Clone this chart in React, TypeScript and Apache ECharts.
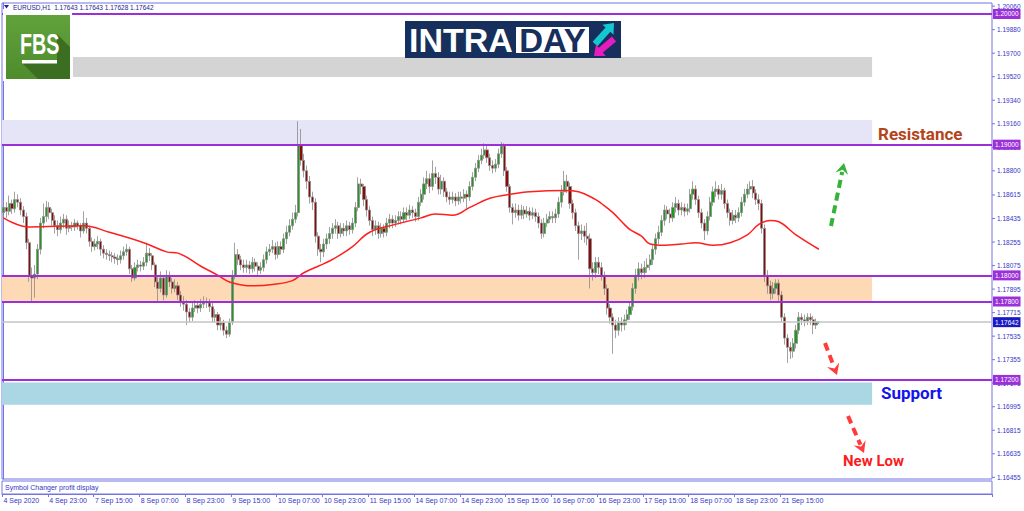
import React, { useEffect, useRef } from "react";
import * as echarts from "echarts";

// ---------- data ----------
const tickLabels = [
  "4 Sep 2020", "4 Sep 23:00", "7 Sep 15:00", "8 Sep 07:00", "8 Sep 23:00", "9 Sep 15:00",
  "10 Sep 07:00", "10 Sep 23:00", "11 Sep 15:00", "14 Sep 07:00", "14 Sep 23:00", "15 Sep 15:00",
  "16 Sep 07:00", "16 Sep 23:00", "17 Sep 15:00", "18 Sep 07:00", "18 Sep 23:00", "21 Sep 15:00",
];
const BARS_PER_LABEL = 16;
const TOTAL_SLOTS = 346;

const firstOpen = 1.1848;
const closes = [
  1.1852, 1.1849, 1.1855, 1.1851, 1.1858, 1.1856, 1.1850, 1.1845, 1.1825, 1.1800,
  1.1798, 1.1801, 1.1820, 1.1840, 1.1845, 1.1852, 1.1848, 1.1842, 1.1838, 1.1835,
  1.1840, 1.1843, 1.1836, 1.1838, 1.1837, 1.1840, 1.1838, 1.1834, 1.1840, 1.1836,
  1.1826, 1.1822, 1.1824, 1.1826, 1.1820, 1.1817, 1.1816, 1.1815, 1.1814, 1.1813,
  1.1812, 1.1815, 1.1818, 1.1820, 1.1805, 1.1798, 1.1806, 1.1808, 1.1807, 1.1810,
  1.1817, 1.1815, 1.1808, 1.1795, 1.1790, 1.1798, 1.1785, 1.1800, 1.1795, 1.1790,
  1.1792, 1.1785, 1.1780, 1.1778, 1.1772, 1.1768, 1.1775, 1.1777, 1.1775, 1.1778,
  1.1780, 1.1779, 1.1776, 1.1768, 1.1770, 1.1762, 1.1764, 1.1758, 1.1755, 1.1764,
  1.1800, 1.1816, 1.1812, 1.1808, 1.1806, 1.1808, 1.1805, 1.1810, 1.1807, 1.1804,
  1.1806, 1.1812, 1.1818, 1.1820, 1.1822, 1.1816, 1.1822, 1.1820, 1.1828, 1.1833,
  1.1838, 1.1843, 1.1848, 1.1900, 1.1888, 1.1880, 1.1872, 1.1860, 1.1856, 1.1830,
  1.1820, 1.1818, 1.1824, 1.1828, 1.1832, 1.1836, 1.1838, 1.1832, 1.1836, 1.1834,
  1.1838, 1.1835, 1.1840, 1.1852, 1.1870, 1.1868, 1.1858, 1.1850, 1.1842, 1.1835,
  1.1838, 1.1832, 1.1836, 1.1833, 1.1840, 1.1843, 1.1840, 1.1842, 1.1845, 1.1843,
  1.1848, 1.1846, 1.1850, 1.1848, 1.1845, 1.1856, 1.1862, 1.1870, 1.1874, 1.1868,
  1.1878, 1.1875, 1.1866, 1.1872, 1.1864, 1.1860, 1.1858, 1.1860, 1.1857, 1.1860,
  1.1859, 1.1862, 1.1860, 1.1868, 1.1875, 1.1882, 1.1888, 1.1892, 1.1896, 1.1890,
  1.1884, 1.1882, 1.1885, 1.1893, 1.1899, 1.1880, 1.1868, 1.1852, 1.1848, 1.1850,
  1.1846, 1.1850, 1.1847, 1.1849, 1.1846, 1.1848, 1.1845, 1.1840, 1.1832, 1.1840,
  1.1843, 1.1845, 1.1844, 1.1847, 1.1856, 1.1864, 1.1872, 1.1868, 1.1855, 1.1848,
  1.1838, 1.1832, 1.1834, 1.1830, 1.1828, 1.1805, 1.1802, 1.1810, 1.1806, 1.1800,
  1.1790, 1.1775, 1.1768, 1.1762, 1.1758, 1.1764, 1.1762, 1.1766, 1.1770, 1.1776,
  1.1790, 1.1800, 1.1805, 1.1802, 1.1806, 1.1808, 1.1812, 1.1820, 1.1828, 1.1833,
  1.1842, 1.1850, 1.1847, 1.1844, 1.1852, 1.1855, 1.1850, 1.1852, 1.1849, 1.1851,
  1.1862, 1.1866, 1.1858, 1.1848, 1.1840, 1.1834, 1.1845, 1.1856, 1.1864, 1.1866,
  1.1862, 1.1865, 1.1855, 1.1848, 1.1842, 1.1846, 1.1844, 1.1848, 1.1856, 1.1862,
  1.1866, 1.1868, 1.1863, 1.1858, 1.1855, 1.1836, 1.1800, 1.1792, 1.1786, 1.1790,
  1.1794, 1.1785, 1.1768, 1.1752, 1.1745, 1.1742, 1.1748, 1.1758, 1.1768, 1.1766,
  1.1765, 1.1768, 1.1766, 1.1762, 1.17643, 1.17642,
];
const highs = [
  1.1858, 1.1856, 1.1861, 1.1858, 1.1864, 1.1862, 1.1859, 1.1853, 1.1848, 1.1828,
  1.1806, 1.1808, 1.1824, 1.1844, 1.1855, 1.1857, 1.1856, 1.1851, 1.1846, 1.1842,
  1.1845, 1.1847, 1.1846, 1.1842, 1.1841, 1.1843, 1.1842, 1.1840, 1.1849, 1.1844,
  1.1838, 1.1829, 1.1828, 1.1830, 1.1828, 1.1823, 1.1820, 1.1819, 1.1818, 1.1817,
  1.1816, 1.1819, 1.1822, 1.1824, 1.1822, 1.1808, 1.1810, 1.1812, 1.1811, 1.1814,
  1.1825, 1.1821, 1.1817, 1.1810, 1.1799, 1.1803, 1.1800, 1.1804, 1.1803, 1.1798,
  1.1797, 1.1795, 1.1788, 1.1784, 1.1781, 1.1775, 1.1779, 1.1781, 1.1780, 1.1782,
  1.1784, 1.1783, 1.1782, 1.1779, 1.1774, 1.1772, 1.1768, 1.1766, 1.1761, 1.1767,
  1.1804, 1.1825, 1.1820, 1.1815, 1.1812, 1.1812, 1.1811, 1.1814, 1.1813, 1.1810,
  1.1810, 1.1816, 1.1822, 1.1824, 1.1827, 1.1825, 1.1826, 1.1826, 1.1832, 1.1838,
  1.1843, 1.1848, 1.1854, 1.1918, 1.1912, 1.1893, 1.1884, 1.1876, 1.1864, 1.1859,
  1.1833, 1.1824, 1.1828, 1.1832, 1.1837, 1.1840, 1.1843, 1.1841, 1.1840, 1.1840,
  1.1842, 1.1841, 1.1844, 1.1856, 1.1875, 1.1874, 1.1870, 1.1861, 1.1853, 1.1845,
  1.1842, 1.1841, 1.1840, 1.1839, 1.1844, 1.1847, 1.1846, 1.1846, 1.1849, 1.1849,
  1.1852, 1.1852, 1.1854, 1.1853, 1.1851, 1.1860, 1.1866, 1.1875, 1.1880, 1.1878,
  1.1888, 1.1883, 1.1879, 1.1877, 1.1875, 1.1867, 1.1864, 1.1864, 1.1863, 1.1864,
  1.1864, 1.1866, 1.1865, 1.1872, 1.1879, 1.1886, 1.1892, 1.1897, 1.1901, 1.1899,
  1.1893, 1.1888, 1.1889, 1.1897, 1.1902, 1.1901, 1.1883, 1.1870, 1.1855, 1.1855,
  1.1854, 1.1854, 1.1853, 1.1853, 1.1852, 1.1852, 1.1851, 1.1848, 1.1843, 1.1844,
  1.1847, 1.1849, 1.1849, 1.1851, 1.1860, 1.1869, 1.1880, 1.1877, 1.1871, 1.1858,
  1.1851, 1.1841, 1.1839, 1.1838, 1.1840, 1.1832, 1.1810, 1.1814, 1.1814, 1.1810,
  1.1803, 1.1793, 1.1778, 1.1771, 1.1766, 1.1768, 1.1768, 1.1770, 1.1774, 1.1780,
  1.1794, 1.1805, 1.1810, 1.1809, 1.1811, 1.1813, 1.1816, 1.1824, 1.1832, 1.1838,
  1.1846, 1.1854, 1.1853, 1.1851, 1.1856, 1.1860, 1.1858, 1.1856, 1.1855, 1.1855,
  1.1866, 1.1872, 1.1869, 1.1861, 1.1851, 1.1843, 1.1849, 1.1860, 1.1868, 1.1872,
  1.1869, 1.1870, 1.1867, 1.1858, 1.1851, 1.1850, 1.1850, 1.1852, 1.1860, 1.1866,
  1.1870, 1.1872, 1.1873, 1.1866, 1.1862, 1.1858, 1.1839, 1.1804, 1.1796, 1.1795,
  1.1797, 1.1797, 1.1788, 1.1771, 1.1755, 1.1749, 1.1752, 1.1762, 1.1772, 1.1771,
  1.1770, 1.1771, 1.1771, 1.1769, 1.1767, 1.17643,
];
const lows = [
  1.1842, 1.1844, 1.1846, 1.1847, 1.1848, 1.1852, 1.1846, 1.1840, 1.1820, 1.1795,
  1.1780, 1.1783, 1.1797, 1.1816, 1.1836, 1.1841, 1.1843, 1.1838, 1.1832, 1.1830,
  1.1832, 1.1836, 1.1831, 1.1833, 1.1834, 1.1834, 1.1835, 1.1829, 1.1832, 1.1832,
  1.1822, 1.1818, 1.1819, 1.1820, 1.1815, 1.1813, 1.1812, 1.1811, 1.1810, 1.1809,
  1.1808, 1.1809, 1.1812, 1.1815, 1.1801, 1.1795, 1.1796, 1.1803, 1.1803, 1.1804,
  1.1807, 1.1811, 1.1804, 1.1791, 1.1780, 1.1787, 1.1781, 1.1783, 1.1791, 1.1786,
  1.1787, 1.1781, 1.1776, 1.1773, 1.1762, 1.1764, 1.1765, 1.1772, 1.1771, 1.1772,
  1.1775, 1.1775, 1.1772, 1.1764, 1.1764, 1.1758, 1.1758, 1.1754, 1.1752, 1.1753,
  1.1762, 1.1797, 1.1808, 1.1804, 1.1802, 1.1802, 1.1801, 1.1802, 1.1803, 1.1799,
  1.1801, 1.1803, 1.1809, 1.1815, 1.1817, 1.1812, 1.1813, 1.1816, 1.1817, 1.1824,
  1.1830, 1.1835, 1.1840, 1.1845, 1.1884, 1.1875, 1.1866, 1.1855, 1.1850, 1.1825,
  1.1815, 1.1810, 1.1814, 1.1820, 1.1824, 1.1828, 1.1832, 1.1828, 1.1829, 1.1830,
  1.1830, 1.1831, 1.1832, 1.1837, 1.1849, 1.1862, 1.1853, 1.1845, 1.1838, 1.1830,
  1.1831, 1.1828, 1.1829, 1.1829, 1.1830, 1.1836, 1.1836, 1.1837, 1.1839, 1.1839,
  1.1840, 1.1842, 1.1843, 1.1844, 1.1841, 1.1842, 1.1853, 1.1858, 1.1866, 1.1863,
  1.1865, 1.1870, 1.1862, 1.1862, 1.1860, 1.1856, 1.1854, 1.1855, 1.1853, 1.1854,
  1.1855, 1.1856, 1.1851, 1.1857, 1.1865, 1.1872, 1.1879, 1.1885, 1.1889, 1.1886,
  1.1880, 1.1878, 1.1879, 1.1882, 1.1890, 1.1876, 1.1864, 1.1848, 1.1839, 1.1844,
  1.1842, 1.1843, 1.1843, 1.1844, 1.1842, 1.1843, 1.1841, 1.1836, 1.1828, 1.1829,
  1.1837, 1.1840, 1.1840, 1.1840, 1.1844, 1.1852, 1.1861, 1.1863, 1.1851, 1.1843,
  1.1834, 1.1812, 1.1827, 1.1825, 1.1823, 1.1790, 1.1796, 1.1798, 1.1801, 1.1796,
  1.1785, 1.1770, 1.1763, 1.1740, 1.1752, 1.1754, 1.1757, 1.1758, 1.1762, 1.1766,
  1.1773, 1.1786, 1.1796, 1.1797, 1.1798, 1.1802, 1.1804, 1.1808, 1.1816, 1.1824,
  1.1830, 1.1838, 1.1843, 1.1840, 1.1841, 1.1848, 1.1846, 1.1846, 1.1845, 1.1846,
  1.1848, 1.1858, 1.1854, 1.1844, 1.1836, 1.1827, 1.1831, 1.1842, 1.1853, 1.1860,
  1.1858, 1.1858, 1.1851, 1.1844, 1.1838, 1.1839, 1.1840, 1.1841, 1.1845, 1.1853,
  1.1859, 1.1862, 1.1859, 1.1854, 1.1850, 1.1832, 1.1795, 1.1786, 1.1781, 1.1782,
  1.1786, 1.1780, 1.1764, 1.1747, 1.1733, 1.1736, 1.1737, 1.1744, 1.1755, 1.1762,
  1.1761, 1.1762, 1.1762, 1.1755, 1.1759, 1.17628,
];

// Moving average read at sample bars: [bar index, value]
const maPoints: [number, number][] = [
  [0, 1.1844], [9, 1.1837], [28, 1.1838], [37, 1.1833], [49, 1.1825], [57, 1.1818],
  [61, 1.1817], [69, 1.1807], [75, 1.1800], [79, 1.1795], [87, 1.1792], [94, 1.1793],
  [101, 1.1796], [105, 1.1802], [110, 1.1807], [114, 1.1811], [118, 1.1816], [122, 1.1822],
  [128, 1.1833], [137, 1.1839], [146, 1.1844], [151, 1.1847], [157, 1.1846], [163, 1.1852],
  [170, 1.1859], [177, 1.1862], [184, 1.1864], [196, 1.1865], [201, 1.1864], [207, 1.1858],
  [209, 1.1855], [213, 1.1848], [217, 1.1839], [219, 1.1835], [223, 1.1830], [226, 1.1824],
  [231, 1.1823], [237, 1.1824], [242, 1.1825], [248, 1.1823], [254, 1.1825], [260, 1.1831],
  [264, 1.1839], [268, 1.1842], [271, 1.1841], [277, 1.1831], [285, 1.1820],
];

const yTicks = [
  1.2006, 1.1988, 1.197, 1.1952, 1.1934, 1.1916, 1.1898, 1.188, 1.18615, 1.18435, 1.18255,
  1.18075, 1.17895, 1.17715, 1.17535, 1.17355, 1.17175, 1.16995, 1.16815, 1.16635, 1.16455,
];
const yMin = 1.16442;
const yMax = 1.20084;

const levelLines = [1.2, 1.19, 1.18, 1.178, 1.172];
const bidPrice = 1.17642;

const resistanceZone = [1.19, 1.19188];
const pivotZone = [1.178, 1.18];
const supportZone = [1.1701, 1.1718];
const bannerZone = [1.19517, 1.19671];
const zoneEndBar = 303.6;
const bannerStartBar = 24.3;

// ---------- styles ----------
const PURPLE = "#9b30d9";
const FRAME = "#7474e4";
const AXIS_TEXT = "#3535c8";
const SMALL_FONT = "Liberation Sans";

function dashedArrow(x1: number, y1: number, x2: number, y2: number, color: string) {
  const dx = x2 - x1, dy = y2 - y1;
  const len = Math.hypot(dx, dy);
  const ux = dx / len, uy = dy / len;
  const px = -uy, py = ux;
  const headLen = 11, headW = 6.5, notch = 4;
  const bx = x2 - ux * headLen, by = y2 - uy * headLen;
  const nx = x2 - ux * (headLen - notch), ny = y2 - uy * (headLen - notch);
  return [
    {
      type: "line", z: 100, silent: true,
      shape: { x1, y1, x2: x2 - ux * (headLen - 2), y2: y2 - uy * (headLen - 2) },
      style: { stroke: color, lineWidth: 4, lineDash: [8, 5] },
    },
    {
      type: "polygon", z: 100, silent: true,
      shape: { points: [[x2, y2], [bx + px * headW, by + py * headW], [nx, ny], [bx - px * headW, by - py * headW]] },
      style: { fill: color },
    },
  ];
}

function blockArrow(x1: number, y1: number, x2: number, y2: number, color: string) {
  const dx = x2 - x1, dy = y2 - y1;
  const len = Math.hypot(dx, dy);
  const ux = dx / len, uy = dy / len;
  const px = -uy, py = ux;
  const sw = 3.2, hw = 7.5, hl = 9;
  const bx = x2 - ux * hl, by = y2 - uy * hl;
  const pts = [
    [x1 + px * sw, y1 + py * sw],
    [bx + px * sw, by + py * sw],
    [bx + px * hw, by + py * hw],
    [x2, y2],
    [bx - px * hw, by - py * hw],
    [bx - px * sw, by - py * sw],
    [x1 - px * sw, y1 - py * sw],
  ];
  return { type: "polygon", z: 100, silent: true, shape: { points: pts }, style: { fill: color } };
}

export default function App() {
  const ref = useRef<HTMLDivElement>(null);

  useEffect(() => {
    if (!ref.current) return;
    const chart = echarts.init(ref.current, null, { renderer: "svg" });

    const categories = Array.from({ length: TOTAL_SLOTS }, (_, i) => String(i));
    const candles = closes.map((c, i) => [i === 0 ? firstOpen : closes[i - 1], c, lows[i], highs[i]]);

    const levelData: any[] = levelLines.map((v) => ({
      yAxis: v,
      lineStyle: { color: PURPLE, width: 2, type: "solid" },
      label: { backgroundColor: PURPLE },
    }));
    levelData.push({
      yAxis: bidPrice,
      lineStyle: { color: "#c4c4c4", width: 1.5, type: "solid" },
      label: { backgroundColor: "#1a1ac4" },
    });

    const zone = (range: number[], from: number, color: string) => [
      { coord: [from, range[0]], itemStyle: { color } },
      { coord: [zoneEndBar, range[1]] },
    ];

    const graphics: any[] = [
      // header
      { type: "polygon", z: 100, shape: { points: [[4, 5], [9, 5], [6.5, 8.5]] }, style: { fill: "#22228c" } },
      {
        type: "text", z: 100, x: 13, y: 7,
        style: { text: "EURUSD,H1  1.17643 1.17643 1.17628 1.17642", fill: "#22228c", fontSize: 6.5, fontFamily: SMALL_FONT, verticalAlign: "middle" },
      },
      // FBS logo
      { type: "rect", z: 90, shape: { x: 3, y: 9, width: 69, height: 72 }, style: { fill: "#ffffff" } },
      {
        type: "rect", z: 91, shape: { x: 6, y: 15, width: 64, height: 64 },
        style: {
          fill: new echarts.graphic.LinearGradient(0, 0, 0, 1, [
            { offset: 0, color: "#62a23c" },
            { offset: 1, color: "#4e8c2c" },
          ]),
        },
      },
      {
        type: "polygon", z: 92,
        shape: { points: [[57, 34], [70, 47], [70, 79], [38, 79], [22, 63], [57, 63], [57, 56]] },
        style: { fill: "#3c6e22" },
      },
      {
        type: "text", z: 93, x: 20, y: 44, scaleX: 0.68,
        style: { text: "FBS", fill: "#ffffff", fontSize: 29, fontWeight: "bold", fontFamily: "Liberation Sans", verticalAlign: "middle", align: "left" },
      },
      { type: "rect", z: 93, shape: { x: 22, y: 60, width: 35, height: 3.5 }, style: { fill: "#ffffff" } },
      // INTRADAY logo
      { type: "rect", z: 95, shape: { x: 405, y: 21, width: 216, height: 37 }, style: { fill: "#172f5c" } },
      {
        type: "text", z: 96, x: 409, y: 40,
        style: { text: "INTRA", fill: "#ffffff", fontSize: 34, fontWeight: "bold", fontFamily: "Liberation Sans", verticalAlign: "middle" },
      },
      { type: "rect", z: 96, shape: { x: 516, y: 27, width: 73, height: 26 }, style: { fill: "#ffffff" } },
      {
        type: "text", z: 97, x: 552.5, y: 40,
        style: { text: "DAY", fill: "#172f5c", fontSize: 33, fontWeight: "bold", fontFamily: "Liberation Sans", verticalAlign: "middle", align: "center" },
      },
      blockArrow(595, 44, 614, 23, "#14c8d2"),
      blockArrow(614, 39, 594, 56, "#e61cc0"),
      // annotations
      {
        type: "text", z: 100, x: 878, y: 134,
        style: { text: "Resistance", fill: "#b4441a", fontSize: 17, fontWeight: "bold", fontFamily: "Roboto", verticalAlign: "middle" },
      },
      {
        type: "text", z: 100, x: 881, y: 393,
        style: { text: "Support", fill: "#1414ee", fontSize: 17, fontWeight: "bold", fontFamily: "Roboto", verticalAlign: "middle" },
      },
      {
        type: "text", z: 100, x: 843, y: 461,
        style: { text: "New Low", fill: "#fa1c1c", fontSize: 15, fontWeight: "bold", fontFamily: "Roboto", verticalAlign: "middle" },
      },
      ...dashedArrow(831, 226, 844, 163, "#35b339"),
      ...dashedArrow(825, 343, 837, 375, "#ff3b3b"),
      ...dashedArrow(848, 416, 864, 453, "#ff3b3b"),
      // sub window text
      {
        type: "text", z: 100, x: 5, y: 487.5,
        style: { text: "Symbol Changer profit display", fill: AXIS_TEXT, fontSize: 7, fontFamily: SMALL_FONT, verticalAlign: "middle" },
      },
    ];

    const isLabelIdx = (idx: number) => idx % BARS_PER_LABEL === 0 && idx / BARS_PER_LABEL < tickLabels.length;

    chart.setOption({
      animation: false,
      backgroundColor: "#ffffff",
      grid: [
        { left: 2, top: 3, width: 990, height: 476, show: true, borderColor: FRAME, borderWidth: 1, backgroundColor: "transparent" },
        { left: 2, top: 481, width: 990, height: 13, show: true, borderColor: FRAME, borderWidth: 1 },
      ],
      xAxis: [
        { type: "category", gridIndex: 0, data: categories, boundaryGap: true, show: false },
        {
          type: "category", gridIndex: 1, data: categories, boundaryGap: true,
          axisLine: { show: true, lineStyle: { color: FRAME, width: 1 } },
          axisTick: { show: true, interval: (idx: number) => isLabelIdx(idx), length: 3, lineStyle: { color: FRAME } },
          axisLabel: {
            interval: (idx: number) => isLabelIdx(idx),
            formatter: (_v: string, idx: number) => tickLabels[idx / BARS_PER_LABEL] ?? "",
            align: "left", color: AXIS_TEXT, fontSize: 7, fontFamily: SMALL_FONT, margin: 3,
          },
          splitLine: { show: false },
        },
        { type: "value", gridIndex: 0, min: -0.5, max: TOTAL_SLOTS - 0.5, show: false },
      ],
      yAxis: [
        {
          type: "value", gridIndex: 0, position: "right", min: yMin, max: yMax,
          splitLine: { show: false },
          axisLine: { show: true, lineStyle: { color: FRAME, width: 1 } },
          axisTick: { show: false },
          axisLabel: {
            customValues: yTicks,
            formatter: (v: number) => `{t|}{v|${v.toFixed(5)}}`,
            margin: 0,
            rich: {
              t: { width: 3, height: 1, backgroundColor: FRAME, verticalAlign: "middle" },
              v: { color: AXIS_TEXT, fontSize: 6.5, fontFamily: SMALL_FONT, padding: [0, 0, 0, 2], verticalAlign: "middle" },
            },
          },
        },
        { type: "value", gridIndex: 1, show: false, min: 0, max: 1 },
      ],
      series: [
        {
          type: "line", name: "zones", xAxisIndex: 2, yAxisIndex: 0, z: 1,
          data: [[-5, 1.19]], symbol: "none", lineStyle: { width: 0 }, silent: true,
          markArea: {
            silent: true,
            data: [
              zone(bannerZone, bannerStartBar, "#d4d4d4"),
              zone(resistanceZone, -0.5, "#e5e5f7"),
              zone(pivotZone, -0.5, "#fdd9b6"),
              zone(supportZone, -0.5, "#abd7e5"),
            ],
          },
        },
        {
          type: "candlestick", name: "EURUSD,H1", xAxisIndex: 0, yAxisIndex: 0, z: 2,
          data: candles, barWidth: 2.6,
          itemStyle: {
            color: "#1e9a1e", color0: "#8e0a0a",
            borderColor: "#8a8a8a", borderColor0: "#8a8a8a", borderWidth: 0.8,
          },
          silent: true,
        },
        {
          type: "line", name: "MA", xAxisIndex: 2, yAxisIndex: 0, z: 3,
          data: maPoints, smooth: 0.4, symbol: "none",
          lineStyle: { color: "#ff1f1f", width: 1.5 }, silent: true,
        },
        {
          type: "line", name: "levels", xAxisIndex: 2, yAxisIndex: 0, z: 4,
          data: [[-5, 1.19]], symbol: "none", lineStyle: { width: 0 }, silent: true,
          markLine: {
            silent: true, symbol: ["none", "none"], precision: 5,
            label: {
              show: true, position: "end", distance: 1,
              formatter: (p: any) => Number(p.data?.yAxis ?? p.value).toFixed(5),
              color: "#ffffff", fontSize: 6.5, fontFamily: SMALL_FONT, padding: [2, 2, 1, 2],
            },
            data: levelData,
          },
        },
      ],
      graphic: graphics,
    });

    return () => chart.dispose();
  }, []);

  return (
    <div
      ref={ref}
      style={{ position: "absolute", left: 0, top: 0, width: 1024, height: 511, background: "#ffffff" }}
    />
  );
}
